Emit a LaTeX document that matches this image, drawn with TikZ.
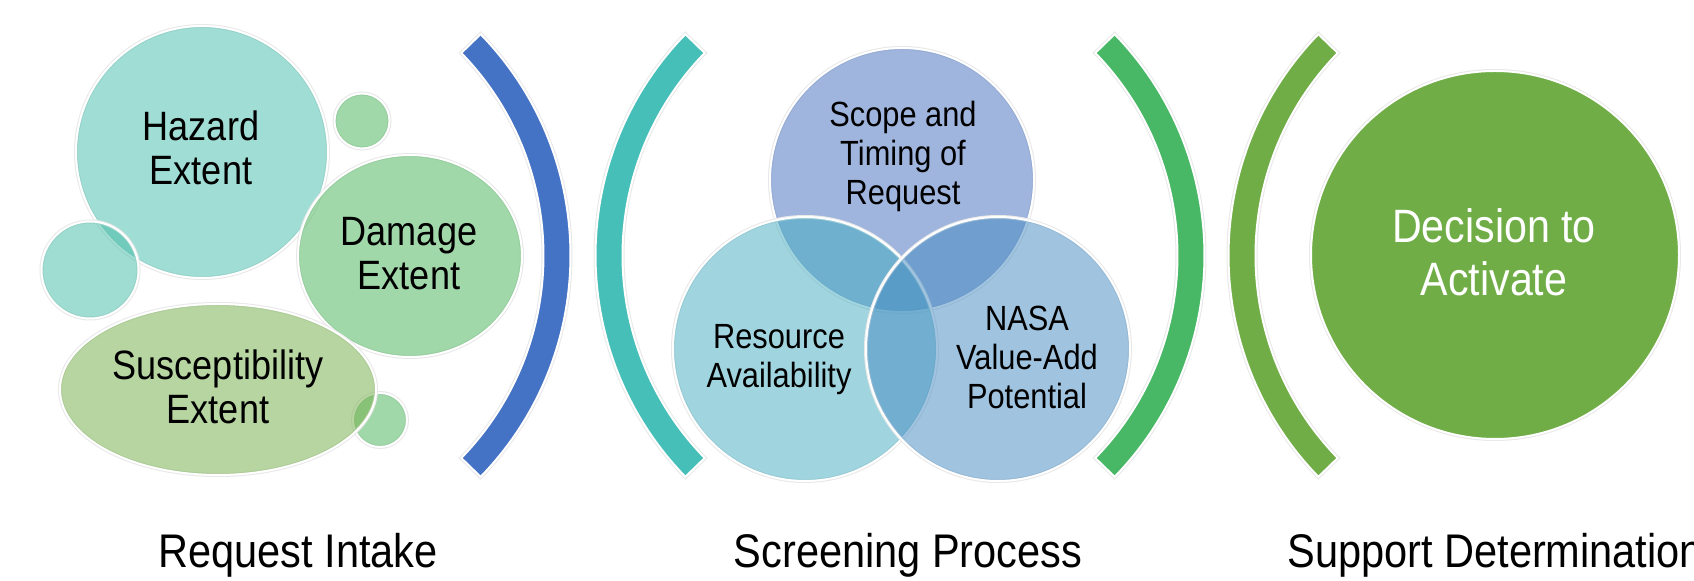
\documentclass[tikz,border=0pt]{standalone}
\usepackage{fontspec}
\setmainfont{Liberation Sans}[FakeStretch=0.88]
\definecolor{hazC}{HTML}{43BDAD}
\definecolor{dmgC}{HTML}{45B355}
\definecolor{lsmC}{HTML}{41BBA5}
\definecolor{susC}{HTML}{71AD45}
\definecolor{scoC}{HTML}{416DBF}
\definecolor{resC}{HTML}{43ADC1}
\definecolor{nasC}{HTML}{4389C1}
\definecolor{decC}{HTML}{70AD47}
\definecolor{arcA}{HTML}{4472C4}
\definecolor{arcB}{HTML}{46BFB8}
\definecolor{arcC}{HTML}{48B766}
\definecolor{arcD}{HTML}{70AD47}
\begin{document}
\begin{tikzpicture}[x=0.5pt,y=-0.5pt,
  halo/.style={preaction={draw=black!9, line width=2pt}},
  bubble/.style={halo, fill=#1, fill opacity=0.5, draw=white, line width=1pt},
  solidshape/.style={halo, fill=#1, draw=white, line width=1pt},
  lbl/.style={align=center, inner sep=0pt, text=black},
  leftfont/.style={font=\fontsize{20.5}{22}\selectfont},
  vennfont/.style={font=\fontsize{17.5}{19.5}\selectfont},
  capfont/.style={font=\fontsize{23.6}{26}\selectfont}]
% canvas
\clip (0,0) rectangle (1694,581);
\fill[white] (0,0) rectangle (1694,581);

% ---- request intake bubbles ----
\path[bubble=hazC] (202,152) circle[radius=126];
\path[bubble=lsmC] (90,270) circle[radius=48.5];
\path[bubble=dmgC] (362,121) circle[radius=27.5];
\path[bubble=dmgC] (410,256) ellipse[x radius=112, y radius=101];
\path[bubble=dmgC] (380,420) circle[radius=27];
\path[bubble=susC] (218,389.5) ellipse[x radius=158, y radius=85.5];

\node[lbl, leftfont] (haz) at (201,148) {Hazard\\Extent};
\node[lbl, leftfont] (dmg) at (409,254) {Damage\\Extent};
\node[lbl, leftfont] (sus) at (218,387) {Susceptibility\\Extent};

% ---- bracket arcs ----
\path[solidshape=arcA, shift={(253,255.5)}]
  (-44.2:317.5) arc[start angle=-44.2, end angle=44.2, radius=317.5]
  -- (44.2:290.5) arc[start angle=44.2, end angle=-44.2, radius=290.5] -- cycle;
\path[solidshape=arcB, shift={(913,255.5)}]
  (135.8:317.5) arc[start angle=135.8, end angle=224.2, radius=317.5]
  -- (224.2:290.5) arc[start angle=224.2, end angle=135.8, radius=290.5] -- cycle;
\path[solidshape=arcC, shift={(887,255.5)}]
  (-44.2:317.5) arc[start angle=-44.2, end angle=44.2, radius=317.5]
  -- (44.2:290.5) arc[start angle=44.2, end angle=-44.2, radius=290.5] -- cycle;
\path[solidshape=arcD, shift={(1546,255.5)}]
  (135.8:317.5) arc[start angle=135.8, end angle=224.2, radius=317.5]
  -- (224.2:290.5) arc[start angle=224.2, end angle=135.8, radius=290.5] -- cycle;

% ---- screening venn ----
\path[bubble=scoC] (902,180) circle[radius=132];
\path[bubble=resC] (805,349) circle[radius=132];
\path[bubble=nasC] (998,349) circle[radius=132];

\node[lbl, vennfont] (sco) at (903,156.5) {Scope and\\Timing of\\Request};
\node[lbl, vennfont] (res) at (779,360) {Resource\\Availability};
\node[lbl, vennfont] (nas) at (1027,357.5) {NASA\\Value-Add\\Potential};

% ---- support determination ----
\path[solidshape=decC] (1495,255) circle[radius=184];
\node[lbl, text=white, font=\fontsize{23.4}{26.5}\selectfont] (dec) at (1494,252) {Decision to\\Activate};

% ---- stage captions ----
\node[lbl, capfont, anchor=base] (cap1) at (298,568) {Request Intake};
\node[lbl, capfont, anchor=base] (cap2) at (908,568) {Screening Process};
\node[lbl, capfont, anchor=base west] (cap3) at (1287,568) {Support Determination};
\end{tikzpicture}
\end{document}
